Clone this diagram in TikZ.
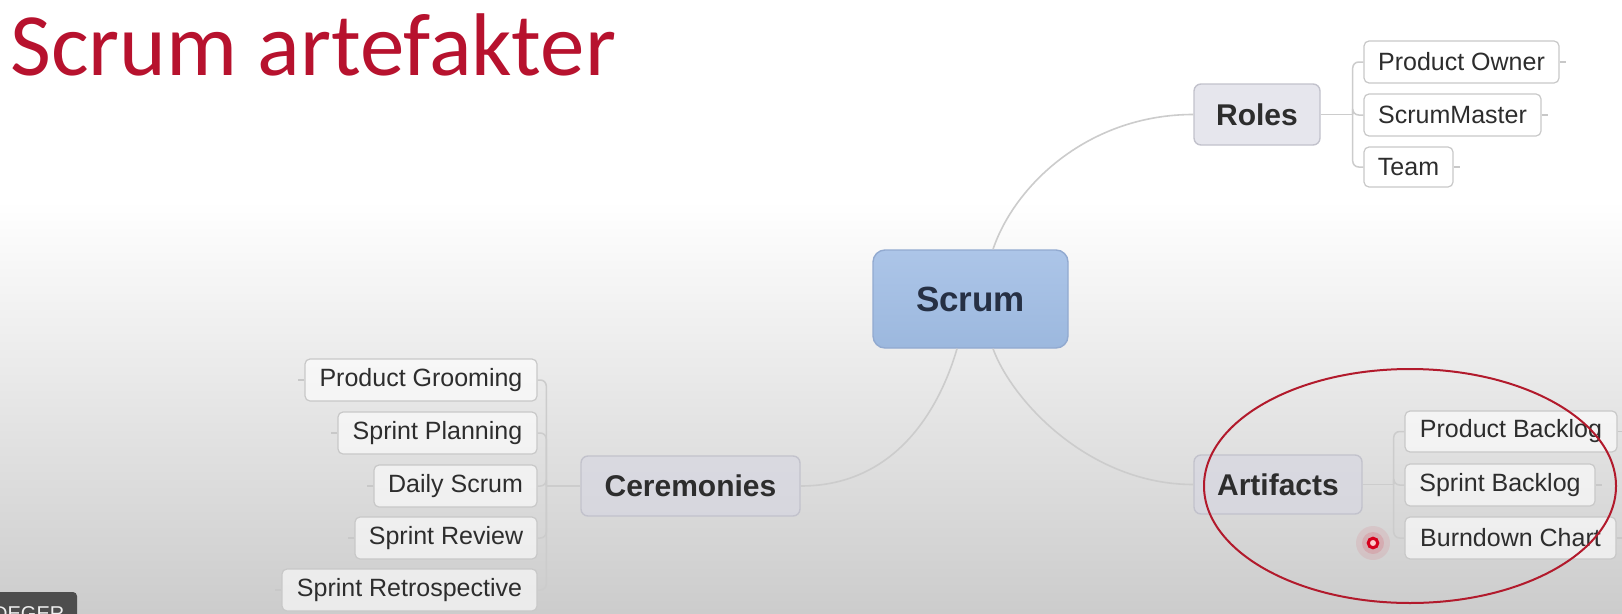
\documentclass[tikz,border=0pt]{standalone}
\usepackage{fontspec}
\setmainfont{Liberation Sans}
\newfontfamily\titlefont{Carlito}
\usetikzlibrary{calc}

\definecolor{titlered}{RGB}{183,18,46}
\definecolor{edgegray}{RGB}{200,200,200}
\definecolor{linkgray}{RGB}{204,204,204}
\definecolor{topicfill}{RGB}{214,214,226}
\definecolor{topicdraw}{RGB}{194,194,204}
\definecolor{roottop}{RGB}{172,197,232}
\definecolor{rootbottom}{RGB}{156,184,222}
\definecolor{rootdraw}{RGB}{146,170,208}
\definecolor{textdark}{RGB}{45,45,45}
\definecolor{roottext}{RGB}{38,48,68}
\definecolor{circlered}{RGB}{178,26,44}
\definecolor{laserred}{RGB}{214,0,28}
\definecolor{bgbottom}{RGB}{204,204,204}
\definecolor{tagbg}{RGB}{77,77,77}

\tikzset{
  leaf/.style={draw=edgegray, line width=1.2pt, fill=white, fill opacity=0.6,
    text opacity=1, rounded corners=5pt, minimum height=42pt, inner sep=0pt,
    text=textdark, font=\fontsize{25}{30}\selectfont},
  topic/.style={draw=topicdraw, line width=1.4pt, fill=topicfill, fill opacity=0.6,
    text opacity=1, rounded corners=7pt, inner sep=0pt, text=textdark,
    font=\bfseries\fontsize{30}{36}\selectfont},
  root/.style={draw=rootdraw, line width=1.4pt, top color=roottop,
    bottom color=rootbottom, rounded corners=12pt, inner sep=0pt,
    text=roottext, font=\bfseries\fontsize{35}{42}\selectfont},
  link/.style={draw=linkgray, line width=1.6pt},
  fork/.style={draw=linkgray, line width=1.5pt, rounded corners=6pt},
  stub/.style={draw=edgegray, line width=1.2pt},
}

\begin{document}
\begin{tikzpicture}[x=1pt,y=-1pt]
\useasboundingbox (0,0) rectangle (1622,613);
\clip (0,0) rectangle (1622,613);

% slide background: white fading to light grey at the bottom
\fill[white] (0,0) rectangle (1622,613);
\shade[top color=white, bottom color=bgbottom] (0,200) rectangle (1622,613);

% title
\node[anchor=base west, inner sep=0pt, text=titlered,
      font=\titlefont\fontsize{89}{100}\selectfont] (title) at (10,75) {Scrum artefakter};

% central topic and main branches
\node[root, minimum width=195pt, minimum height=98pt] (scrum) at (970.5,299) {Scrum};
\node[topic, minimum width=126pt, minimum height=61pt] (roles) at (1257,114.5) {Roles};
\node[topic, minimum width=219pt, minimum height=60pt] (cer) at (690.5,486) {Ceremonies};
\node[topic, minimum width=168pt, minimum height=59pt] (art) at (1278,484.5) {Artifacts};

% roles
\node[leaf, minimum width=195pt] (po) at (1461.5,62) {Product Owner};
\node[leaf, minimum width=177pt] (sm) at (1452.5,115) {ScrumMaster};
\node[leaf, minimum width=89pt, minimum height=40pt] (team) at (1408.5,167) {Team};

% ceremonies
\node[leaf, minimum width=232pt] (pg) at (421,380) {Product Grooming};
\node[leaf, minimum width=199pt] (sp) at (437.5,433) {Sprint Planning};
\node[leaf, minimum width=163pt] (ds) at (455.5,486) {Daily Scrum};
\node[leaf, minimum width=182pt] (sr) at (446,538) {Sprint Review};
\node[leaf, minimum width=255pt] (sret) at (409.5,590) {Sprint Retrospective};

% artifacts
\node[leaf, minimum width=212pt, minimum height=41pt] (pb) at (1511,431.5) {Product Backlog};
\node[leaf, minimum width=190pt] (sb) at (1500,485) {Sprint Backlog};
\node[leaf, minimum width=211pt] (bc) at (1510.5,538) {Burndown Chart};

% curved links from the central topic
\draw[link] ($(scrum.north)+(22.5,0)$) .. controls +(22,-65) and +(-104,0) .. (roles.west);
\draw[link] ($(scrum.south)+(-13.5,0)$) .. controls +(-15,52) and +(100,0) .. (cer.east);
\draw[link] ($(scrum.south)+(22.5,0)$) .. controls +(19,52) and +(-104,0) .. (art.west);

% brackets to the sub-topics
\draw[link] (roles.east) -- ++(32,0) coordinate (rolesfork);
\foreach \c in {po,sm,team} \draw[fork] (rolesfork) |- (\c.west);
\draw[link] (cer.west) -- ++(-34,0) coordinate (cerfork);
\foreach \c in {pg,sp,ds,sr,sret} \draw[fork] (cerfork) |- (\c.east);
\draw[link] (art.east) -- ++(31,0) coordinate (artfork);
\foreach \c in {pb,sb,bc} \draw[fork] (artfork) |- (\c.west);

% collapsed-branch stubs
\foreach \c in {po,sm,team,pb,sb,bc} \draw[stub] (\c.east) -- ++(6,0);
\foreach \c in {pg,sp,ds,sr,sret} \draw[stub] (\c.west) -- ++(-6,0);

% hand-drawn highlight round the artifacts
\draw[circlered, line width=2pt] (1410,486) ellipse [x radius=206, y radius=117];

% pointer dot
\fill[laserred, opacity=0.08] (1373,543) circle (17pt);
\fill[laserred, opacity=0.12] (1373,543) circle (11pt);
\fill[red!20!white] (1373,543) circle (3pt);
\draw[laserred, line width=3pt] (1373,543) circle (4.8pt);

% caption tag at the lower left
\fill[tagbg, rounded corners=4pt] (-10,592) rectangle (77,640);
\node[anchor=north west, inner sep=0pt, text=white!88!gray,
      font=\fontsize{20}{24}\selectfont] (tag) at (-7,606) {DEGER};
\end{tikzpicture}
\end{document}
